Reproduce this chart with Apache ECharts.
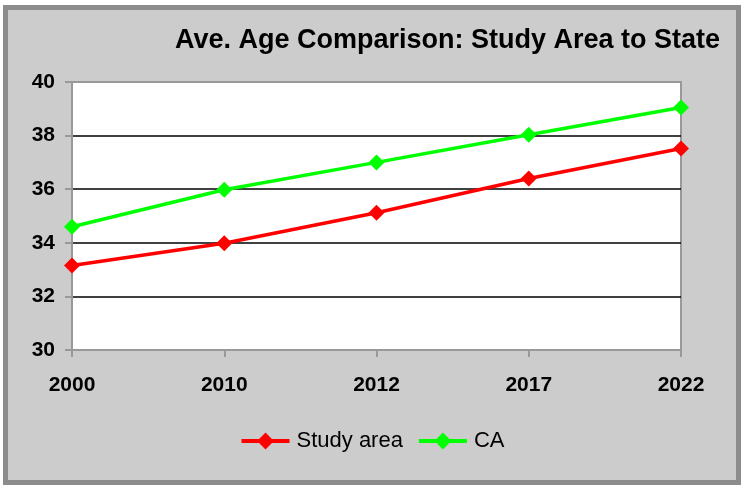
<!DOCTYPE html>
<html>
<head>
<meta charset="utf-8">
<script src="https://cdn.jsdelivr.net/npm/echarts@6/dist/echarts.min.js"></script>
<style>
html,body{margin:0;padding:0;background:#fff;}
#frame{position:absolute;left:3px;top:5px;width:738px;height:480px;box-sizing:border-box;border:5px solid #8c8c8c;background:#cccccc;}
#chart{position:absolute;left:0;top:0;width:744px;height:485px;}
</style>
</head>
<body>
<div id="frame"></div>
<div id="chart"></div>
<script>
const categories = ['2000', '2010', '2012', '2017', '2022'];
const studyArea = [33.15, 33.98, 35.12, 36.4, 37.52];
const caValues = [34.6, 35.98, 37.0, 38.03, 39.05];
const yTicks = { min: 30, max: 40, interval: 2 };

const chart = echarts.init(document.getElementById('chart'), null, { renderer: 'canvas' });
const font = 'Liberation Sans, Arial, sans-serif';
chart.setOption({
  backgroundColor: 'transparent',
  animation: false,
  title: {
    text: 'Ave. Age Comparison: Study Area to State',
    right: 19,
    top: 22,
    textStyle: { fontFamily: font, fontSize: 27, fontWeight: 'bold', color: '#000' }
  },
  legend: {
    bottom: 28,
    left: 'center',
    itemWidth: 48,
    itemHeight: 21,
    itemGap: 14,
    lineStyle: { width: 4 },
    textStyle: { fontFamily: font, fontSize: 22, color: '#000', padding: [0, 0, 0, 2] },
    data: ['Study area', 'CA']
  },
  grid: {
    left: 72, right: 63, top: 82, bottom: 135,
    show: true, backgroundColor: '#fff', borderColor: '#999', borderWidth: 2,
    containLabel: false
  },
  xAxis: {
    type: 'category',
    data: categories,
    boundaryGap: false,
    axisLine: { show: true, lineStyle: { color: '#999', width: 2 } },
    axisTick: { show: true, length: 7, lineStyle: { color: '#999', width: 2 } },
    axisLabel: { margin: 25, fontFamily: font, fontSize: 21, fontWeight: 'bold', color: '#000' },
    splitLine: { show: false }
  },
  yAxis: {
    type: 'value',
    min: yTicks.min, max: yTicks.max, interval: yTicks.interval,
    axisLine: { show: true, lineStyle: { color: '#999', width: 2 } },
    axisTick: { show: true, length: 7, lineStyle: { color: '#999', width: 2 } },
    axisLabel: { margin: 17, fontFamily: font, fontSize: 21, fontWeight: 'bold', color: '#000' },
    splitLine: { show: true, lineStyle: { color: ['#999', '#000', '#000', '#000', '#000', '#999'], width: 1.5 } }
  },
  series: [
    {
      name: 'Study area', type: 'line', data: studyArea,
      symbol: 'diamond', symbolSize: 16,
      lineStyle: { color: '#ff0000', width: 3.5 },
      itemStyle: { color: '#ff0000' }
    },
    {
      name: 'CA', type: 'line', data: caValues,
      symbol: 'diamond', symbolSize: 16,
      lineStyle: { color: '#00ff00', width: 3.5 },
      itemStyle: { color: '#00ff00' }
    }
  ]
});
</script>
</body>
</html>
